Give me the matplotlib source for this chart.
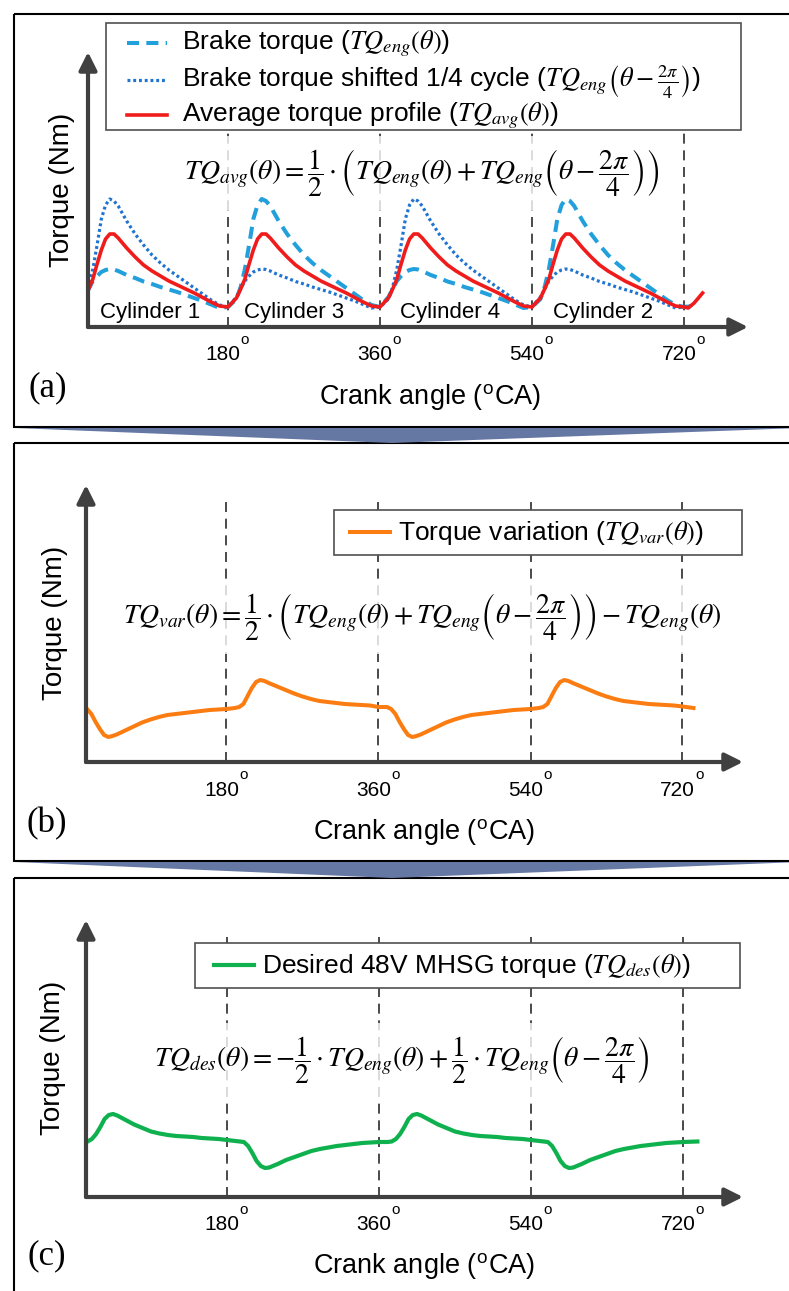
"""
Engine torque smoothing concept: brake torque, 1/4-cycle shifted torque,
their average, the resulting variation and the desired MHSG torque.
"""

import matplotlib.pyplot as plt
from matplotlib.lines import Line2D
from matplotlib.patches import Rectangle, Polygon

plt.rcParams['font.family'] = ['Liberation Sans', 'DejaVu Sans']
plt.rcParams['mathtext.fontset'] = 'stix'

W, H = 789, 1291

# ---------------- data (crank angle in deg, torque in arbitrary units) ----------------
CA_MARKS = [180, 360, 540, 720]

# one cylinder firing (180 deg)
CYL_STARTS = [0, 180, 360, 540]
CYL_OFFSET = [0, 10, 15, 20, 25, 30, 35, 40, 45, 50, 60, 70, 80, 90, 100, 110, 120, 130, 140, 150, 160, 170]
PULSE_HIGH = [20, 28, 40, 58, 82, 108, 122, 128, 126, 121, 106, 93, 82, 72, 64, 57, 51, 45, 39, 33, 27, 22]
PULSE_LOW = [20, 30, 38, 46, 51, 55, 57, 58, 57.5, 56, 52, 49, 45.5, 43, 40, 37.5, 35, 32, 29, 26, 22.5, 19]
PULSE_AVG = [20, 29, 38, 48, 63, 77, 88, 93, 93, 89, 79, 70, 62, 56, 51, 46, 42, 38, 34, 29.5, 25, 21]

ENG_ORDER = ['low', 'high', 'low', 'high']       # dashed: TQ_eng(theta)
SHIFT_ORDER = ['high', 'low', 'high', 'low']     # dotted: TQ_eng(theta - 2pi/4)
ENG_TAIL_TH, ENG_TAIL = [720, 731], [20, 21]
SHIFT_TAIL_TH, SHIFT_TAIL = [720, 731], [20, 22]
AVG_TAIL_TH, AVG_TAIL = [720, 725, 732, 742], [20, 19, 24, 34]

CYL_NAMES = ['Cylinder 1', 'Cylinder 3', 'Cylinder 4', 'Cylinder 2']
CYL_LABEL_X = [88, 258, 443, 624]

# panels (b) and (c): one 360 deg period each
PERIOD_STARTS = [0, 360]
VAR_OFFSET = [0, 10, 15, 20, 25, 30, 35, 40, 45, 50, 60, 70, 80, 90, 100, 110, 120, 130, 140, 150, 160, 170,
              180, 190, 195, 200, 205, 210, 215, 220, 225, 230, 240, 250, 260, 270, 280, 290, 300, 310, 320,
              330, 340, 350]
VAR_PROFILE = [55, 55, 53, 48, 40, 33, 27, 25, 26, 27.5, 31.5, 35.5, 39.5, 42.5, 45, 47, 48, 49, 50, 51, 52, 52.5,
               53, 54, 55, 58, 66, 74, 80, 82, 81, 79, 75.5, 72, 68.5, 65.5, 63, 61, 60, 59, 58,
               57.5, 57, 56.5]
VAR_TAIL_TH, VAR_TAIL = [720, 733], [55.5, 54]

DES_OFFSET = [0, 10, 15, 20, 25, 30, 35, 40, 45, 50, 60, 70, 80, 90, 100, 110, 120, 130, 140, 150, 160, 170,
              180, 190, 200, 205, 210, 215, 220, 225, 230, 240, 250, 260, 270, 280, 290, 300, 310, 320, 330,
              340, 350]
DES_PROFILE = [55, 55, 55.5, 58, 63, 70, 78, 82, 83, 81.5, 77, 72.5, 69, 65.5, 63.5, 62, 61, 60.5, 60, 59, 58.5, 58,
               57, 56, 55, 51, 44, 36, 31, 29, 29.5, 33, 37, 40, 43, 46, 48, 49.5, 51, 52, 53,
               54, 54.5]
DES_TAIL_TH, DES_TAIL = [720, 737], [55, 55.5]

# ---------------- colours / styles ----------------
C_DASH = '#22a0dc'
C_DOT = '#1f74d0'
C_RED = '#f01c1c'
C_ORANGE = '#fb7d12'
C_GREEN = '#0fb04e'
C_AXIS = '#404040'
C_CHEVRON = '#6577a3'

STY_ENG = dict(color=C_DASH, lw=2.9, dashes=(3, 1.8))
STY_SHIFT = dict(color=C_DOT, lw=2.3, dashes=(0.9, 0.9))
STY_AVG = dict(color=C_RED, lw=2.6)
STY_VAR = dict(color=C_ORANGE, lw=2.9)
STY_DES = dict(color=C_GREEN, lw=3)

PX_PER_DEG = 152 / 180


def chain(starts, offsets, profiles, tail_th, tail_v):
    th, v = [], []
    for s, prof in zip(starts, profiles):
        th += [s + o for o in offsets]
        v += list(prof)
    return th + tail_th, v + tail_v


def make_panel(fig, axis_x, axis_y, top, tip, x0, vtop):
    ax = fig.add_axes([axis_x / W, 1 - axis_y / H, (tip - axis_x) / W, (axis_y - top) / H], zorder=2)
    ax.set_xlim((axis_x - x0) / PX_PER_DEG, (tip - x0) / PX_PER_DEG)
    ax.set_ylim(0, axis_y - top)
    ax.axis('off')
    ax.patch.set_alpha(0)
    ax.vlines(CA_MARKS, 0, vtop, colors='#2b2b2b', linestyles=(0, (6, 4)), lw=1.2, zorder=1)
    arrow = dict(arrowstyle='-|>,head_length=0.9,head_width=0.45', lw=3, color=C_AXIS,
                 shrinkA=0, shrinkB=0, mutation_scale=12)
    ax.annotate('', xy=(1, 0), xytext=(0, 0), xycoords='axes fraction', arrowprops=arrow, zorder=6)
    ax.annotate('', xy=(0, 1), xytext=(0, 0), xycoords='axes fraction', arrowprops=arrow, zorder=6)
    for t in CA_MARKS:
        ax.annotate(str(t), xy=(t, 0), xycoords=('data', 'axes fraction'), xytext=(-5, -28),
                    textcoords='offset pixels', ha='center', va='center', fontsize=15)
        ax.annotate('o', xy=(t, 0), xycoords=('data', 'axes fraction'), xytext=(17, -13),
                    textcoords='offset pixels', ha='center', va='center', fontsize=11)
    return ax


def equation(ax, x_px, y_px, tex):
    # sits above the dashed guide lines but below the curves
    ax.text(x_px, y_px, tex, transform=fg.transData, ha='center', va='center', fontsize=20,
            bbox=dict(boxstyle='square,pad=0.4', fc='white', ec='none', alpha=0.8), zorder=2,
            clip_on=False)


def draw_legend(box, entries, hx, tx, rows_y):
    x0, y0, x1, y1 = box
    fg.add_patch(Rectangle((x0, y0), x1 - x0, y1 - y0, fc='white', ec='#505050', lw=1.2, zorder=20))
    for (style, label), ry in zip(entries, rows_y):
        fg.add_line(Line2D([hx, hx + 40], [ry, ry], zorder=21, **style))
        fg.text(tx, ry + 1, label, fontsize=19, ha='left', va='center', zorder=21)


fig = plt.figure(figsize=(W / 100, H / 100), dpi=100)
bg = fig.add_axes([0, 0, 1, 1], zorder=0)
fg = fig.add_axes([0, 0, 1, 1], zorder=5)
for a in (bg, fg):
    a.set_xlim(0, W)
    a.set_ylim(H, 0)
    a.axis('off')
    a.patch.set_alpha(0)

# panel frames and connecting chevrons
for y0, y1 in [(14, 427), (443, 861), (878, 1300)]:
    bg.add_patch(Rectangle((14, y0), 800, y1 - y0, fill=False, ec='black', lw=1.5))
for y0, y1 in [(428, 443), (862, 878)]:
    bg.add_patch(Polygon([(15, y0), (800, y0), (392, y1)], closed=True, fc=C_CHEVRON, ec='none'))

# ---------------- panel (a) ----------------
ax_a = make_panel(fig, 88, 327, 52, 748, 76, 275)
prof = {'high': PULSE_HIGH, 'low': PULSE_LOW}
th_eng, v_eng = chain(CYL_STARTS, CYL_OFFSET, [prof[k] for k in ENG_ORDER], ENG_TAIL_TH, ENG_TAIL)
th_sh, v_sh = chain(CYL_STARTS, CYL_OFFSET, [prof[k] for k in SHIFT_ORDER], SHIFT_TAIL_TH, SHIFT_TAIL)
th_avg, v_avg = chain(CYL_STARTS, CYL_OFFSET, [PULSE_AVG] * 4, AVG_TAIL_TH, AVG_TAIL)

ax_a.plot(th_eng, v_eng, zorder=3, **STY_ENG)
ax_a.plot(th_sh, v_sh, zorder=3, **STY_SHIFT)
ax_a.plot(th_avg, v_avg, zorder=4, **STY_AVG)
for name, x in zip(CYL_NAMES, CYL_LABEL_X):
    ax_a.text(x, 14, name, ha='center', va='center', fontsize=16, zorder=5)

draw_legend((106, 23, 741, 130),
            [(STY_ENG, r'Brake torque ($TQ_{eng}(\theta)$)'),
             (STY_SHIFT, r'Brake torque shifted 1/4 cycle ($TQ_{eng}\left(\theta-\frac{2\pi}{4}\right)$)'),
             (STY_AVG, r'Average torque profile ($TQ_{avg}(\theta)$)')],
            127, 182, [43, 80, 115])
equation(ax_a, 422, 173, r'$TQ_{avg}(\theta)=\dfrac{1}{2}\cdot\left(TQ_{eng}(\theta)+TQ_{eng}'
         r'\left(\theta-\dfrac{2\pi}{4}\right)\right)$')

# ---------------- panel (b) ----------------
ax_b = make_panel(fig, 86, 762, 485, 743, 74.5, 262)
th_var, v_var = chain(PERIOD_STARTS, VAR_OFFSET, [VAR_PROFILE] * 2, VAR_TAIL_TH, VAR_TAIL)
ax_b.plot(th_var, v_var, zorder=4, **STY_VAR)
draw_legend((334, 510, 742, 555), [(STY_VAR, r'Torque variation ($TQ_{var}(\theta)$)')], 350, 398, [532])
equation(ax_b, 422, 617, r'$TQ_{var}(\theta)=\dfrac{1}{2}\cdot\left(TQ_{eng}(\theta)+TQ_{eng}'
         r'\left(\theta-\dfrac{2\pi}{4}\right)\right)-TQ_{eng}(\theta)$')

# ---------------- panel (c) ----------------
ax_c = make_panel(fig, 86, 1197, 920, 743, 75, 262)
th_des, v_des = chain(PERIOD_STARTS, DES_OFFSET, [DES_PROFILE] * 2, DES_TAIL_TH, DES_TAIL)
ax_c.plot(th_des, v_des, zorder=4, **STY_DES)
draw_legend((195, 943, 740, 988), [(STY_DES, r'Desired 48V MHSG torque ($TQ_{des}(\theta)$)')],
            214, 262, [965])
equation(ax_c, 402, 1060, r'$TQ_{des}(\theta)=-\dfrac{1}{2}\cdot TQ_{eng}(\theta)+\dfrac{1}{2}\cdot TQ_{eng}'
         r'\left(\theta-\dfrac{2\pi}{4}\right)$')

# axis titles and panel letters
for (lx, ly), (yx, yy), (px, py), tag in [((430, 398), (62, 190), (48, 388), '(a)'),
                                          ((424, 833), (55, 623), (47, 824), '(b)'),
                                          ((424, 1267), (53, 1058), (47, 1256), '(c)')]:
    bg.text(lx, ly, r'Crank angle ($^{\mathregular{o}}$CA)', ha='center', va='center', fontsize=19.5)
    bg.text(yx, yy, 'Torque (Nm)', ha='center', va='center', rotation=90, fontsize=20)
    bg.text(px, py, tag, ha='center', va='center', fontsize=25, family='Liberation Serif')

fig.savefig('out.png', dpi=100)
